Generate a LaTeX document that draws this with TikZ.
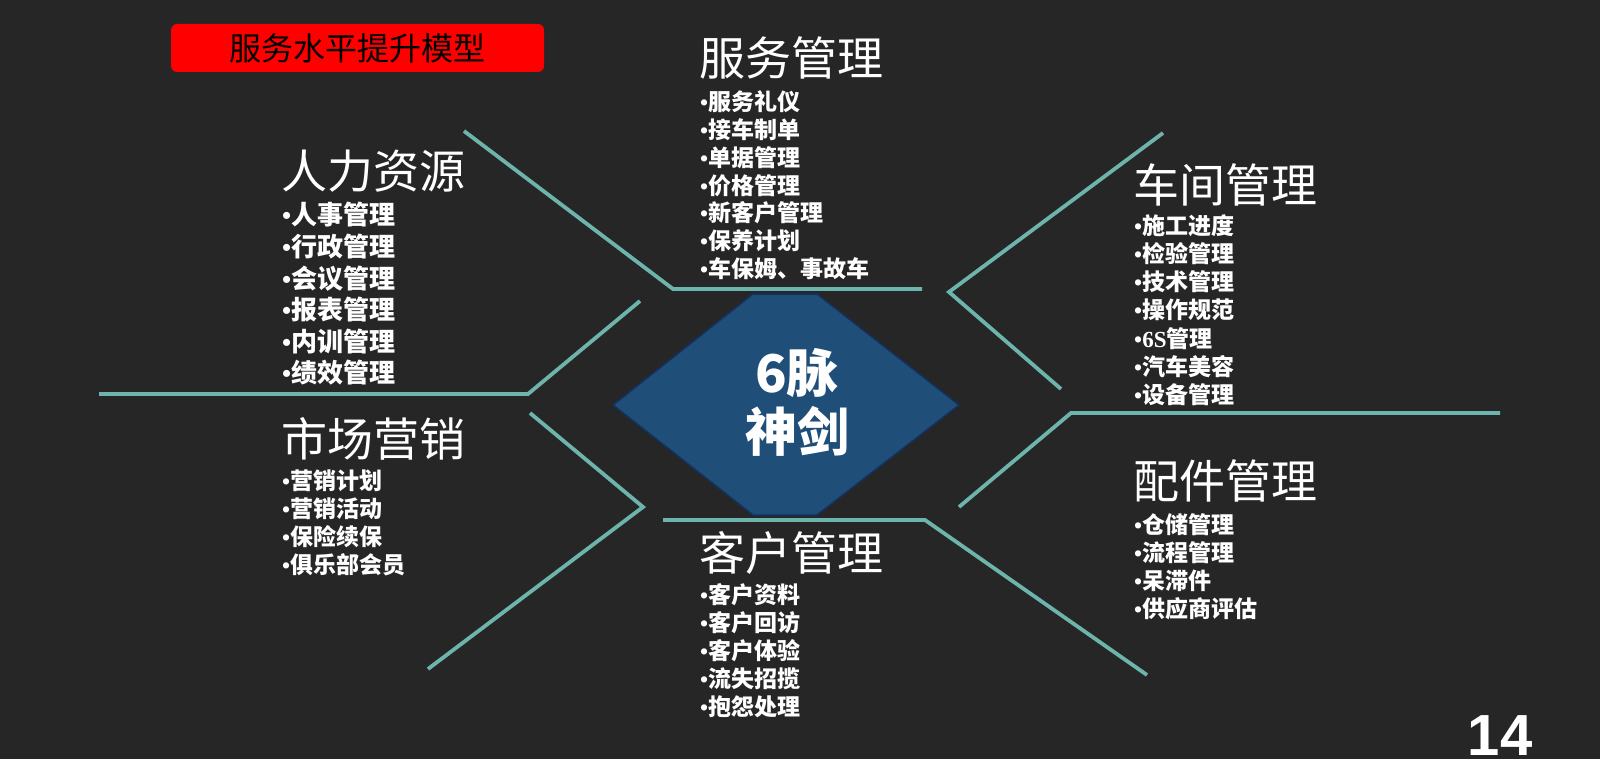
\documentclass[tikz,border=0pt]{standalone}
\usepackage{fontspec}
\setmainfont{Noto Sans CJK SC}
\newfontfamily\serfont{Liberation Serif}
\newfontfamily\arialfont{Liberation Sans}
\definecolor{bgc}{HTML}{262626}
\definecolor{tealc}{HTML}{6CB4AC}
\definecolor{hexfill}{HTML}{1F4E79}
\definecolor{hexline}{HTML}{13315C}
\newcommand{\bul}{{\serfont\bfseries •}}
\tikzset{
  tealline/.style={draw=tealc, line width=3.8pt, line join=miter},
  heading/.style={anchor=west, inner sep=0pt, text=white, font=\fontsize{46}{50}\selectfont, text height=39.6pt, text depth=4.6pt},
  itemtext/.style={anchor=west, inner sep=0pt, text=white, font=\bfseries\fontsize{23}{26}\selectfont, text height=19.8pt, text depth=2.3pt},
  bigitemtext/.style={anchor=west, inner sep=0pt, text=white, font=\bfseries\fontsize{26}{30}\selectfont, text height=22.4pt, text depth=2.6pt},
}
\begin{document}
\begin{tikzpicture}[x=1pt,y=-1pt]
\fill[bgc] (0,0) rectangle (1600,759);
\useasboundingbox (0,0) rectangle (1600,759);

% title box
\node[fill=red, rounded corners=6pt, minimum width=373pt, minimum height=48pt, inner sep=0pt,
      font=\fontsize{32}{36}\selectfont, text=black] (title) at (357.5,48) {服务水平提升模型};

% teal polylines
\draw[tealline] (464,131) -- (673,289) -- (922,289);
\draw[tealline] (99,394) -- (528,394) -- (640,301);
\draw[tealline] (530,413) -- (643,507) -- (428,669);
\draw[tealline] (663,520) -- (925,520) -- (1147,675);
\draw[tealline] (959,507) -- (1071,413) -- (1500,413);
\draw[tealline] (1163,133) -- (949,292) -- (1061,389);

% hexagon
\coordinate (h1) at (613,405);
\coordinate (h2) at (753,294);
\coordinate (h3) at (817,294);
\coordinate (h4) at (959,405);
\coordinate (h5) at (817,515);
\coordinate (h6) at (753,515);
\filldraw[fill=hexfill, draw=hexline, line width=1.5pt] (h1) -- (h2) -- (h3) -- (h4) -- (h5) -- (h6) -- cycle;
\node[text=white, align=center, inner sep=0pt, font=\bfseries\fontsize{52}{59}\selectfont] (hex) at (797,402.5) {6脉\\神剑};

% headings
\node[heading] (fwh) at (699,58) {服务管理};
\node[heading] (rlh) at (281,171) {人力资源};
\node[heading] (sch) at (281,439) {市场营销};
\node[heading] (khh) at (699,553) {客户管理};
\node[heading] (cjh) at (1133,185) {车间管理};
\node[heading] (pjh) at (1133,481) {配件管理};

% items
\foreach \t [count=\i] in {服务礼仪,接车制单,单据管理,价格管理,新客户管理,保养计划,车保姆、事故车}
  \node[itemtext] (fw\i) at (700,{102+27.8*(\i-1)}) {\bul\t};
\foreach \t [count=\i] in {人事管理,行政管理,会议管理,报表管理,内训管理,绩效管理}
  \node[bigitemtext] (rl\i) at (282,{215+31.6*(\i-1)}) {\bul\t};
\foreach \t [count=\i] in {营销计划,营销活动,保险续保,俱乐部会员}
  \node[itemtext] (sc\i) at (282,{481+27.8*(\i-1)}) {\bul\t};
\foreach \t [count=\i] in {客户资料,客户回访,客户体验,流失招揽,抱怨处理}
  \node[itemtext] (kh\i) at (700,{595+28*(\i-1)}) {\bul\t};
\foreach \t [count=\i] in {施工进度,检验管理,技术管理,操作规范,{{\serfont\bfseries 6S}管理},汽车美容,设备管理}
  \node[itemtext] (cj\i) at (1134,{225.5+28.2*(\i-1)}) {\bul\t};
\foreach \t [count=\i] in {仓储管理,流程管理,呆滞件,供应商评估}
  \node[itemtext] (pj\i) at (1134,{524.5+28.2*(\i-1)}) {\bul\t};

% page number
\node[text=white, inner sep=0pt, font=\arialfont\bfseries\fontsize{58}{60}\selectfont] (pagenum) at (1500,736) {14};
\end{tikzpicture}
\end{document}
